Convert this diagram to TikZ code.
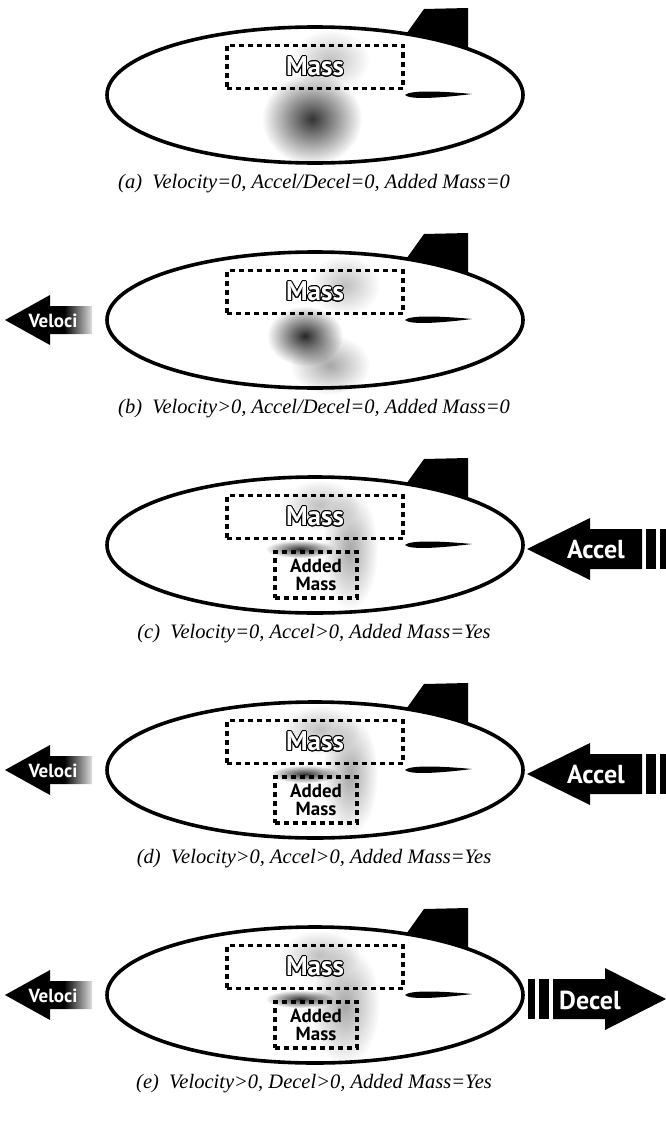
\documentclass[tikz,border=0pt]{standalone}
\usepackage{fontspec}
\setmainfont{Liberation Serif}
\newfontfamily\labelfont{PT Sans}
\usepackage{contour}
\contourlength{1pt}
\usetikzlibrary{fadings}

\tikzfading[name=softblob, inner color=transparent!0, outer color=transparent!100]

\tikzset{
  hull/.style={draw=black, line width=3.6pt, fill=white},
  massbox/.style={draw=black, line width=3.6pt, dash pattern=on 5pt off 4pt,
    minimum width=176pt, minimum height=43pt, inner sep=0pt,
    font=\labelfont\bfseries\fontsize{27}{28}\selectfont},
  addbox/.style={draw=black, line width=3.6pt, dash pattern=on 5pt off 4pt,
    minimum width=82pt, minimum height=46pt, inner sep=0pt, align=center,
    font=\labelfont\bfseries\fontsize{19}{18}\selectfont},
  arrowtext/.style={text=white, inner sep=0pt, font=\labelfont\bfseries\fontsize{26}{26}\selectfont},
  veltext/.style={text=white, inner sep=0pt, font=\labelfont\bfseries\fontsize{19}{19}\selectfont},
  caption/.style={inner sep=0pt, font=\fontsize{20.5}{23}\selectfont\itshape},
  blob/.style={fill=black, path fading=softblob}
}

% one airship hull with its top fin
\newcommand{\hullat}[2]{% #1 name suffix, #2 centre y
  \begin{scope}[shift={(0,#2)}]
    \fill[black] (404,-58) -- (424,-86) -- (468,-87) -- (468,-38) -- (404,-38) -- cycle;
    \path[hull] (315,0) ellipse [x radius=208, y radius=68];
    \coordinate (hull#1) at (315,0);
  \end{scope}}

% the thin side fin
\newcommand{\finat}[1]{%
  \begin{scope}[shift={(0,#1)}]
    \fill[black] (405,0) .. controls (410,-5) and (440,-4) .. (472,-1)
      .. controls (440,3) and (410,5) .. (405,0) -- cycle;
  \end{scope}}

\begin{document}
\begin{tikzpicture}[x=1pt, y=-1pt]
\useasboundingbox (0,0) rectangle (666,1124);

% ---------------- (a) ----------------
\hullat{a}{95}
\begin{scope}[shift={(0,95)}]
  \fill[blob, fill opacity=0.8] (312,24) ellipse [x radius=50, y radius=46];
  \fill[blob, fill opacity=0.25] (330,-35) ellipse [x radius=40, y radius=30];
\end{scope}
\finat{95}
\node[massbox] (ma) at (315,67) {\contour{black}{\textcolor{white}{Mass}}};
\node[caption] (ca) at (314,184) {(a)\enspace Velocity=0, Accel/Decel=0, Added Mass=0};

% ---------------- (b) ----------------
\hullat{b}{320}
\begin{scope}[shift={(0,320)}]
  \fill[blob, fill opacity=0.85] (305,16) ellipse [x radius=38, y radius=30];
  \fill[blob, fill opacity=0.35] (330,45) ellipse [x radius=40, y radius=30];
  \fill[blob, fill opacity=0.25] (345,-35) ellipse [x radius=35, y radius=30];
\end{scope}
\finat{320}
\node[massbox] (mb) at (315,292) {\contour{black}{\textcolor{white}{Mass}}};
\fill[black] (5,320) -- (50,295) -- (50,306) -- (92,306) -- (92,334) -- (50,334) -- (50,345) -- cycle;
\node[veltext] (vb) at (53,321) {Veloci};
\fill[white, path fading=west] (64,300) rectangle (96,340);
\node[caption] (cb) at (314,409) {(b)\enspace Velocity>0, Accel/Decel=0, Added Mass=0};

% ---------------- (c) ----------------
\hullat{c}{545}
\begin{scope}[shift={(0,545)}]
  \fill[blob, fill opacity=0.35] (350,5) ellipse [x radius=28, y radius=60];
  \fill[blob, fill opacity=0.25] (320,-40) ellipse [x radius=40, y radius=25];
  \fill[blob, fill opacity=0.8] (300,4) ellipse [x radius=35, y radius=9];
\end{scope}
\finat{545}
\node[massbox] (mc) at (315,517) {\contour{black}{\textcolor{white}{Mass}}};
\node[addbox] (ac) at (316,575) {Added\\Mass};
\fill[black] (527,549) -- (590,518) -- (590,529) -- (642,529) -- (642,569) -- (590,569) -- (590,580) -- cycle;
\fill[black] (646,529) rectangle (656,569);
\fill[black] (660,529) rectangle (670,569);
\node[arrowtext] (tc) at (596,550) {Accel};
\node[caption] (cc) at (314,634) {(c)\enspace Velocity=0, Accel>0, Added Mass=Yes};

% ---------------- (d) ----------------
\hullat{d}{770}
\begin{scope}[shift={(0,770)}]
  \fill[blob, fill opacity=0.35] (350,5) ellipse [x radius=28, y radius=60];
  \fill[blob, fill opacity=0.25] (320,-40) ellipse [x radius=40, y radius=25];
  \fill[blob, fill opacity=0.8] (305,4) ellipse [x radius=35, y radius=9];
\end{scope}
\finat{770}
\node[massbox] (md) at (315,742) {\contour{black}{\textcolor{white}{Mass}}};
\node[addbox] (ad) at (316,800) {Added\\Mass};
\fill[black] (5,770) -- (50,745) -- (50,756) -- (92,756) -- (92,784) -- (50,784) -- (50,795) -- cycle;
\node[veltext] (vd) at (53,771) {Veloci};
\fill[white, path fading=west] (64,750) rectangle (96,790);
\fill[black] (527,774) -- (590,743) -- (590,754) -- (642,754) -- (642,794) -- (590,794) -- (590,805) -- cycle;
\fill[black] (646,754) rectangle (656,794);
\fill[black] (660,754) rectangle (670,794);
\node[arrowtext] (td) at (596,775) {Accel};
\node[caption] (cd) at (314,859) {(d)\enspace Velocity>0, Accel>0, Added Mass=Yes};

% ---------------- (e) ----------------
\hullat{e}{995}
\begin{scope}[shift={(0,995)}]
  \fill[blob, fill opacity=0.35] (345,10) ellipse [x radius=35, y radius=60];
  \fill[blob, fill opacity=0.25] (320,-40) ellipse [x radius=40, y radius=25];
  \fill[blob, fill opacity=0.8] (300,4) ellipse [x radius=35, y radius=9];
\end{scope}
\finat{995}
\node[massbox] (me) at (315,967) {\contour{black}{\textcolor{white}{Mass}}};
\node[addbox] (ae) at (316,1025) {Added\\Mass};
\fill[black] (5,995) -- (50,970) -- (50,981) -- (92,981) -- (92,1009) -- (50,1009) -- (50,1020) -- cycle;
\node[veltext] (ve) at (53,996) {Veloci};
\fill[white, path fading=west] (64,975) rectangle (96,1015);
\fill[black] (528,979) rectangle (535,1019);
\fill[black] (539,979) rectangle (549,1019);
\fill[black] (553,979) -- (605,979) -- (605,968) -- (666,999) -- (605,1030) -- (605,1019) -- (553,1019) -- cycle;
\node[arrowtext] (te) at (590,1000) {Decel};
\node[caption] (ce) at (314,1084) {(e)\enspace Velocity>0, Decel>0, Added Mass=Yes};
\end{tikzpicture}
\end{document}
